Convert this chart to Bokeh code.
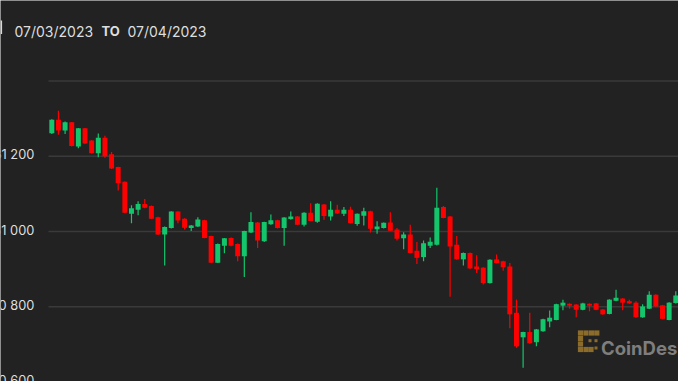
from bokeh.plotting import figure
from bokeh.models import Range1d, Label, ColumnDataSource
from bokeh.embed import file_html
from bokeh.resources import INLINE

# ---- data (BTC 15-minute candles, 07/03/2023 -> 07/04/2023) ----
opens = [31261, 31297, 31268, 31290, 31226, 31274, 31242, 31208, 31249, 31205,
         31171, 31132, 31047, 31058, 31073, 31068, 31038, 30992, 31009, 31053,
         31034, 31009, 31013, 31030, 30988, 30917, 30962, 30983, 30967, 30934,
         30997, 31024, 30974, 31019, 31030, 31009, 31033, 31040, 31018, 31050,
         31026, 31072, 31040, 31058, 31047, 31058, 31020, 31042, 31054, 31006,
         31009, 31024, 31005, 30982, 30992, 30949, 30932, 30962, 30965, 31065,
         31040, 30965, 30926, 30943, 30907, 30904, 30863, 30926, 30921, 30907,
         30784, 30719, 30733, 30706, 30735, 30761, 30765, 30803, 30808, 30806,
         30792, 30808, 30809, 30793, 30781, 30816, 30822, 30815, 30811, 30772,
         30795, 30832, 30804, 30765, 30810]
highs = [31298, 31321, 31292, 31291, 31275, 31275, 31243, 31260, 31254, 31211,
         31172, 31133, 31070, 31080, 31086, 31069, 31039, 31013, 31054, 31054,
         31035, 31017, 31038, 31031, 30989, 30968, 30983, 30984, 30968, 31002,
         31051, 31025, 31026, 31045, 31031, 31038, 31053, 31041, 31051, 31075,
         31075, 31073, 31080, 31071, 31065, 31066, 31048, 31063, 31055, 31027,
         31024, 31051, 31009, 30998, 31018, 30972, 30976, 30984, 31116, 31068,
         31041, 30988, 30944, 30944, 30937, 30905, 30926, 30939, 30922, 30916,
         30819, 30734, 30784, 30741, 30768, 30790, 30808, 30819, 30809, 30807,
         30811, 30809, 30810, 30794, 30820, 30845, 30823, 30819, 30815, 30807,
         30841, 30833, 30805, 30812, 30841]
lows = [31259, 31257, 31259, 31226, 31221, 31233, 31207, 31197, 31196, 31166,
        31109, 31049, 31022, 31043, 31062, 31033, 30991, 30910, 31008, 31022,
        31005, 31001, 31012, 30982, 30916, 30916, 30942, 30961, 30921, 30879,
        30996, 30956, 30972, 31018, 31008, 30962, 31031, 31017, 31013, 31027,
        31023, 31031, 31029, 31047, 31041, 31021, 31015, 31016, 30997, 30994,
        31008, 31001, 30976, 30953, 30942, 30914, 30921, 30956, 30963, 31035,
        30827, 30925, 30910, 30900, 30890, 30859, 30862, 30915, 30896, 30743,
        30691, 30638, 30702, 30695, 30734, 30746, 30764, 30791, 30795, 30772,
        30791, 30788, 30791, 30779, 30780, 30815, 30791, 30808, 30771, 30771,
        30794, 30800, 30767, 30764, 30809]
closes = [31297, 31268, 31290, 31227, 31274, 31234, 31208, 31249, 31200, 31167,
          31128, 31050, 31062, 31073, 31063, 31034, 30992, 31012, 31053, 31029,
          31010, 31016, 31032, 30983, 30917, 30967, 30982, 30962, 30934, 31001,
          31025, 30976, 31025, 31030, 31009, 31037, 31040, 31018, 31050, 31028,
          31074, 31041, 31058, 31048, 31058, 31022, 31047, 31054, 31007, 31013,
          31023, 31002, 30981, 30992, 30943, 30930, 30969, 30973, 31063, 31036,
          30960, 30926, 30943, 30902, 30900, 30863, 30925, 30916, 30905, 30780,
          30695, 30733, 30703, 30740, 30767, 30771, 30807, 30811, 30803, 30792,
          30809, 30803, 30792, 30780, 30819, 30824, 30811, 30809, 30772, 30801,
          30832, 30801, 30768, 30811, 30830]

y_ticks = [30600, 30800, 31000, 31200, 31400]
y_tick_labels = ["30 600", "30 800", "31 000", "31 200", ""]
date_from = "07/03/2023"
date_to = "07/04/2023"

# ---- style ----
BG = "#222222"
UP = "#13c66c"
DOWN = "#fd0000"
GRID = "#3a3a3a"
TXT = "#dedede"
FONT = "Inter"

W, H = 678, 381
PLOT_LEFT_PX = 48                 # where the price area starts
STEP_PX = 6.638                   # pixels per candle
X_GRID0 = -0.5                    # price area starts half a candle before the first one
X0 = X_GRID0 - PLOT_LEFT_PX / STEP_PX
X1 = X0 + W / STEP_PX
Y0, Y1 = 30601.6, 31613.5

idx = list(range(len(opens)))
colors = [UP if c >= o else DOWN for o, c in zip(opens, closes)]
src = ColumnDataSource(dict(
    x=idx,
    high=highs,
    low=lows,
    top=[max(o, c) for o, c in zip(opens, closes)],
    bottom=[min(o, c) for o, c in zip(opens, closes)],
    color=colors,
))

p = figure(width=W, height=H, output_backend="svg", toolbar_location=None,
           x_axis_location=None, y_axis_location=None,
           x_range=Range1d(X0, X1), y_range=Range1d(Y0, Y1),
           min_border=0)
p.background_fill_color = BG
p.border_fill_color = BG
p.outline_line_color = None
for g in p.grid:
    g.visible = False

# horizontal grid lines over the price area only
p.segment(x0=[X_GRID0] * len(y_ticks), x1=[X1] * len(y_ticks),
          y0=y_ticks, y1=y_ticks, line_color=GRID, line_width=1.5)

p.segment(x0="x", y0="high", x1="x", y1="low", line_color="color",
          line_width=1.2, source=src)
p.vbar(x="x", width=0.75, top="top", bottom="bottom", fill_color="color",
       line_color=None, source=src)

# y tick labels (sit just above their grid lines, left of the price area)
for t, lab in zip(y_ticks, y_tick_labels):
    if lab:
        p.add_layout(Label(x=33.8, x_units="screen", y=t, y_units="data",
                           text=lab, text_align="right", text_baseline="alphabetic",
                           y_offset=1.4, text_color=TXT, text_font=FONT,
                           text_font_size="12.8px"))

# header
hy = H - 30.7
p.add_layout(Label(x=14, y=hy, x_units="screen", y_units="screen",
                   text=date_from, text_color=TXT, text_font=FONT,
                   text_font_size="14px", text_baseline="alphabetic"))
p.add_layout(Label(x=101, y=hy, x_units="screen", y_units="screen",
                   text="TO", text_color=TXT, text_font=FONT, text_font_style="bold",
                   text_font_size="13px", text_baseline="alphabetic"))
p.add_layout(Label(x=127, y=hy, x_units="screen", y_units="screen",
                   text=date_to, text_color=TXT, text_font=FONT,
                   text_font_size="14px", text_baseline="alphabetic"))

# small bar at the very left of the header
def sx2x(sx):
    return X0 + sx * (X1 - X0) / W

def sy2y(sy):
    return Y1 - sy * (Y1 - Y0) / H

p.segment(x0=[sx2x(0.8)], x1=[sx2x(0.8)], y0=[sy2y(20)], y1=[sy2y(33.5)],
          line_color="#d8d8d8", line_width=1.6)

# watermark
GOLD = "#8c6c2a"
logo_big = [(580, 332.5), (585.5, 332.5), (591, 332.5), (596.3, 332.5),
            (580, 338), (580, 343.5), (580, 349), (585.5, 349), (590.5, 349)]
logo_small = [(595.5, 340.2), (595.5, 347.5), (589.5, 340.2)]
p.scatter([sx2x(a) for a, b in logo_big], [sy2y(b) for a, b in logo_big],
          marker="square", size=5.2, fill_color=GOLD, line_color=None)
p.scatter([sx2x(a) for a, b in logo_small], [sy2y(b) for a, b in logo_small],
          marker="square", size=3, fill_color=GOLD, line_color=None)
p.add_layout(Label(x=600.5, y=H - 347.5, x_units="screen", y_units="screen",
                   text="CoinDesk", text_color="#7e7e7e", text_font=FONT,
                   text_font_style="bold", text_font_size="18.5px",
                   text_baseline="alphabetic"))

open("out.html", "w").write(file_html(p, INLINE))
